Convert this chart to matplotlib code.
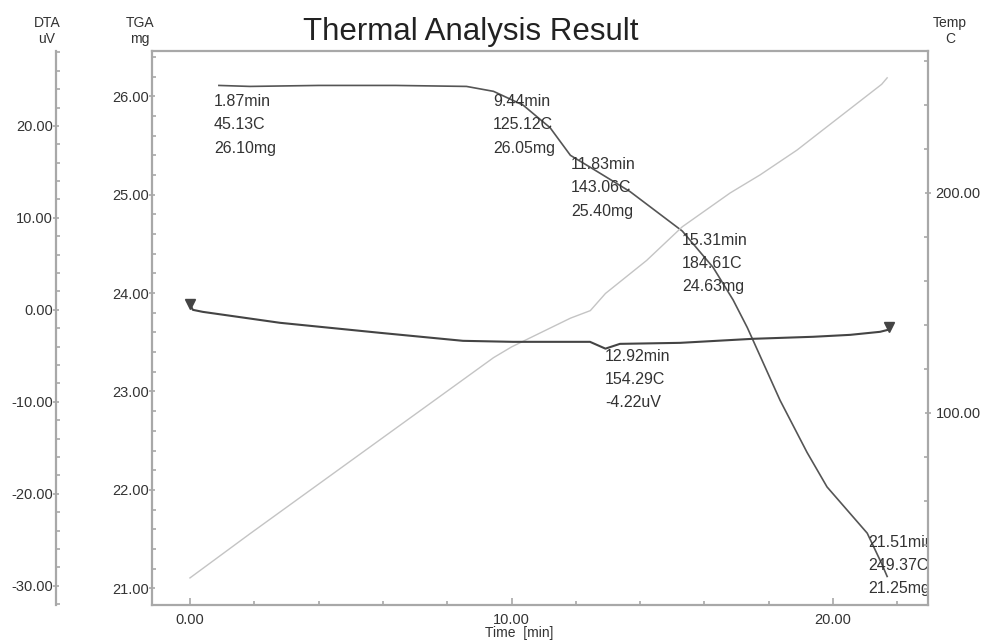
import matplotlib
matplotlib.use("Agg")
import matplotlib.pyplot as plt
from matplotlib.ticker import MultipleLocator, FormatStrFormatter

plt.rcParams["font.family"] = ["Liberation Sans", "DejaVu Sans"]

# TGA mass loss (min, mg)
tga_time = [0.90, 1.87, 4.00, 6.40, 8.60, 9.44, 10.36, 11.20, 11.83, 12.54,
            13.69, 15.31, 16.27, 16.89, 17.33, 17.51, 18.35, 19.19, 19.81,
            21.06, 21.51, 21.68]
tga_mass = [26.11, 26.10, 26.11, 26.11, 26.10, 26.05, 25.91, 25.68, 25.40,
            25.26, 25.03, 24.63, 24.26, 23.93, 23.65, 23.52, 22.91, 22.38,
            22.03, 21.56, 21.25, 21.12]

# DTA signal (min, uV)
dta_time = [0.00, 0.09, 0.40, 2.80, 5.91, 8.49, 10.05, 12.44, 12.92, 13.37,
            15.24, 17.51, 19.38, 20.53, 21.46, 21.71, 21.74]
dta_signal = [0.60, 0.00, -0.22, -1.41, -2.50, -3.37, -3.48, -3.48, -4.22,
              -3.70, -3.59, -3.15, -2.93, -2.72, -2.39, -2.17, -1.85]

# furnace temperature (min, C)
temp_time = [0.00, 1.87, 9.44, 10.00, 11.83, 12.45, 12.92, 14.20, 15.31,
             16.80, 17.73, 18.88, 19.60, 21.51, 21.68]
temp_value = [25.0, 45.13, 125.12, 130.0, 143.06, 146.5, 154.29, 169.3,
              184.61, 200.0, 208.2, 219.5, 227.7, 249.37, 252.3]

# readout points: time, temperature, value, unit
mark_time = [1.87, 9.44, 11.83, 15.31, 12.92, 21.51]
mark_temp = [45.13, 125.12, 143.06, 184.61, 154.29, 249.37]
mark_value = [26.10, 26.05, 25.40, 24.63, -4.22, 21.25]
mark_unit = ["mg", "mg", "mg", "mg", "uV", "mg"]

# where each readout sits (time, TGA mg) - top left corner of the text
label_pos = [(0.75, 26.02), (9.42, 26.02), (11.85, 25.38), (15.30, 24.61),
             (12.91, 23.43), (21.09, 21.54)]

spine_col = "#a8a8a8"
text_col = "#333333"

fig = plt.figure(figsize=(9.85, 6.43), dpi=100)
ax = fig.add_axes([152 / 985, 1 - 605 / 643, 776 / 985, 554 / 643])
ax_t = ax.twinx()
ax_d = ax.twinx()

# ---- TGA (main left axis) ----
ax.plot(tga_time, tga_mass, color="#555555", lw=1.2)
ax.set_xlim(-1.18, 22.95)
ax.set_ylim(20.83, 26.46)

# ---- Temperature (right axis) ----
ax_t.plot(temp_time, temp_value, color="#c4c4c4", lw=1.0)
ax_t.set_ylim(12.7, 264.5)

# ---- DTA (outer left axis) ----
ax_d.plot(dta_time, dta_signal, color="#444444", lw=1.5,
          marker="v", markevery=[0, len(dta_time) - 1], markersize=7,
          markerfacecolor="#444444", markeredgecolor="#444444")
ax_d.set_ylim(-32.1, 28.15)
ax_d.spines["left"].set_position(("axes", (56 - 152) / 776))
ax_d.spines["left"].set_visible(True)
ax_d.yaxis.set_ticks_position("left")
ax_d.yaxis.set_label_position("left")

for a in (ax, ax_t, ax_d):
    for s in a.spines.values():
        s.set_color(spine_col)
        s.set_linewidth(1.6)
ax.spines["right"].set_visible(False)
for side in ("top", "bottom", "left"):
    ax_t.spines[side].set_visible(False)
for side in ("top", "bottom", "right"):
    ax_d.spines[side].set_visible(False)

# ticks
ax.xaxis.set_major_locator(MultipleLocator(10))
ax.xaxis.set_minor_locator(MultipleLocator(2))
ax.xaxis.set_major_formatter(FormatStrFormatter("%.2f"))
ax.tick_params(axis="x", which="major", direction="in", length=5, pad=6)
ax.tick_params(axis="x", which="minor", direction="in", length=3)

ax.yaxis.set_major_locator(MultipleLocator(1))
ax.yaxis.set_minor_locator(MultipleLocator(0.2))
ax.yaxis.set_major_formatter(FormatStrFormatter("%.2f"))
ax.tick_params(axis="y", which="major", direction="inout", length=4, pad=0)
ax.tick_params(axis="y", which="minor", direction="in", length=3)

ax_t.yaxis.set_major_locator(MultipleLocator(100))
ax_t.yaxis.set_minor_locator(MultipleLocator(20))
ax_t.yaxis.set_major_formatter(FormatStrFormatter("%.2f"))
ax_t.tick_params(axis="y", which="major", direction="inout", length=5, pad=3)
ax_t.tick_params(axis="y", which="minor", direction="in", length=3)

ax_d.yaxis.set_major_locator(MultipleLocator(10))
ax_d.yaxis.set_minor_locator(MultipleLocator(2))
ax_d.yaxis.set_major_formatter(FormatStrFormatter("%.2f"))
ax_d.tick_params(axis="y", which="major", direction="inout", length=4, pad=0)
ax_d.tick_params(axis="y", which="minor", direction="in", length=3)

for a in (ax, ax_t, ax_d):
    a.tick_params(which="both", color=spine_col, labelcolor=text_col,
                  labelsize=10.5, width=1.2)

# readouts
for (tx, ty), t, temp, val, unit in zip(label_pos, mark_time, mark_temp,
                                         mark_value, mark_unit):
    ax.text(tx, ty, f"{t:.2f}min\n{temp:.2f}C\n{val:.2f}{unit}",
            ha="left", va="top", fontsize=11.5, color=text_col,
            linespacing=1.68, clip_on=True, zorder=5)

# titles and axis captions
fig.text(471 / 985, 1 - 32 / 643, "Thermal Analysis Result", ha="center",
         va="center", fontsize=22.5, color="#222222")
fig.text(519 / 985, 1 - 633 / 643, "Time  [min]", ha="center", va="center",
         fontsize=10, color=text_col)
for x, s in ((47, "DTA\nuV"), (140, "TGA\nmg"), (950, "Temp\nC")):
    fig.text(x / 985, 1 - 31 / 643, s, ha="center", va="center",
             fontsize=10, color=text_col, linespacing=1.25)

fig.savefig("out.png", dpi=100)
